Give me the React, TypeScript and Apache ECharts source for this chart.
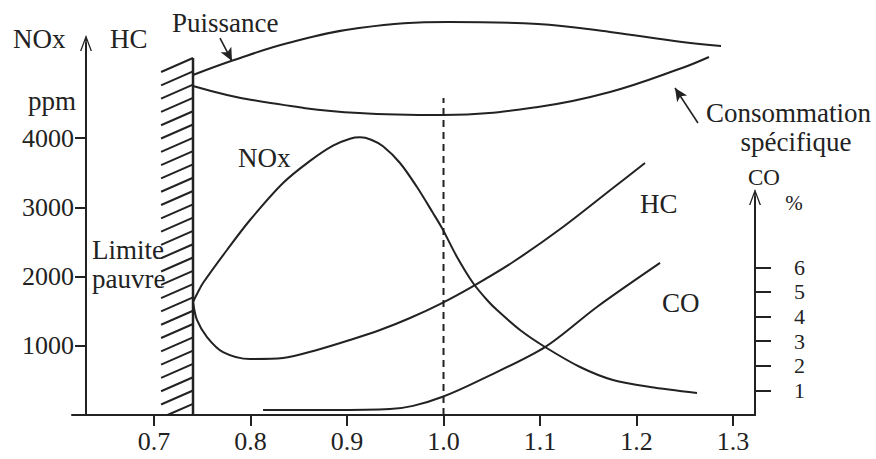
import React, { useEffect, useRef } from 'react';
import * as echarts from 'echarts';

// ---- data (x = richesse, y = ppm or %) ----
const xTicks = [0.7, 0.8, 0.9, 1.0, 1.1, 1.2, 1.3];
const ppmTicks = [1000, 2000, 3000, 4000];
const coTicks = [1, 2, 3, 4, 5, 6];

const noxPpm = [
  [0.7404, 1632], [0.7456, 1776], [0.7508, 1906], [0.7756, 2383], [0.7995, 2816],
  [0.8337, 3350], [0.8617, 3670], [0.8855, 3890], [0.9031, 3990], [0.9135, 4010],
  [0.925, 3975], [0.9373, 3880], [0.9549, 3639], [0.9725, 3292], [0.9891, 2917],
  [0.9984, 2700], [1.014, 2282], [1.0306, 1906], [1.0451, 1661], [1.0554, 1516],
  [1.0793, 1227], [1.1052, 982], [1.1415, 693], [1.1756, 505], [1.214, 404],
  [1.2627, 318],
];
const hcPpm = [
  [0.7404, 1632], [0.7445, 1372], [0.7549, 1126], [0.7715, 909], [0.7995, 809],
  [0.8337, 823], [0.8689, 939], [0.9031, 1083], [0.9342, 1227], [0.9653, 1401],
  [0.9984, 1617], [1.0326, 1877], [1.072, 2209], [1.1238, 2715], [1.1756, 3278],
  [1.2088, 3639],
];
const coPct = [
  [0.813, 0.2], [0.8824, 0.2], [0.9446, 0.24], [0.9684, 0.37], [0.9984, 0.73],
  [1.0378, 1.42], [1.1052, 2.76], [1.159, 4.39], [1.2244, 6.18],
];
// upper curves, in ppm-equivalent height (no scale on the figure)
const puissance = [
  [0.7404, 4910], [0.7829, 5126], [0.8389, 5372], [0.9124, 5588], [1.0057, 5675],
  [1.0979, 5646], [1.1725, 5531], [1.2472, 5386], [1.2876, 5329],
];
const consommation = [
  [0.7404, 4752], [0.8016, 4549], [0.9124, 4361], [0.9995, 4332], [1.0979, 4448],
  [1.1725, 4664], [1.2472, 5011], [1.2751, 5170],
];
const stoichLine = [[1.0, 0], [1.0, 4578]];
const leanLimit = [[0.7073, 0.7404, 0, 5155]];
const puissanceArrow = [[0.7684, 5444], [0.7808, 5112]];
const consoArrow = [[1.2637, 4217], [1.2399, 4722]];

const FONT = '"Liberation Serif", "Times New Roman", serif';
const INK = '#222';
const X_MIN = 0.615;
const X_MAX = 1.3228;
const chevron =
  'path://M0,16 L6,0 L12,16 L10.6,16 L6,3.6 L1.4,16 Z M5.3,1 L6.7,1 L6.7,16 L5.3,16 Z';

function txt(text: string, x: number, y: number, size = 27, align = 'left') {
  return {
    type: 'text',
    x,
    y,
    silent: true,
    style: {
      text,
      fill: INK,
      font: `${size}px ${FONT}`,
      align,
      verticalAlign: 'middle',
    },
  };
}

export default function App() {
  const ref = useRef<HTMLDivElement>(null);

  useEffect(() => {
    if (!ref.current) return;
    const chart = echarts.init(ref.current, undefined, { renderer: 'svg' });
    const lineStyle = { color: INK, width: 2 };
    const hiddenX = (gridIndex: number) => ({
      type: 'value',
      gridIndex,
      min: X_MIN,
      max: X_MAX,
      show: false,
    });

    const option: any = {
      animation: false,
      backgroundColor: '#fff',
      grid: [
        { left: 72, right: 121, top: 43, bottom: 44, outerBoundsMode: 'none' },
        { left: 72, right: 121, top: 197, bottom: 44, outerBoundsMode: 'none' },
        { left: 72, right: 121, top: 0, bottom: 44, outerBoundsMode: 'none' },
      ],
      xAxis: [
        {
          type: 'value',
          gridIndex: 0,
          min: X_MIN,
          max: X_MAX,
          splitLine: { show: false },
          axisLine: { show: true, lineStyle: { color: INK, width: 2 } },
          axisTick: { show: true, length: 11, customValues: xTicks, lineStyle: { color: INK, width: 2 } },
          axisLabel: {
            customValues: xTicks,
            formatter: (v: number) => v.toFixed(1),
            margin: 13,
            color: INK,
            fontFamily: FONT,
            fontSize: 26,
          },
        },
        hiddenX(1),
        hiddenX(2),
      ],
      yAxis: [
        {
          type: 'value',
          gridIndex: 0,
          position: 'left',
          offset: -14,
          min: 0,
          max: 5372,
          splitLine: { show: false },
          axisLine: {
            show: true,
            symbol: ['none', chevron],
            symbolSize: [12, 16],
            lineStyle: { color: INK, width: 2 },
          },
          axisTick: { show: true, length: 11, customValues: ppmTicks, lineStyle: { color: INK, width: 2 } },
          axisLabel: {
            customValues: ppmTicks,
            formatter: (v: number) => String(v),
            margin: 12,
            color: INK,
            fontFamily: FONT,
            fontSize: 26,
          },
        },
        {
          type: 'value',
          gridIndex: 1,
          position: 'right',
          min: 0,
          max: 8.86,
          splitLine: { show: false },
          axisLine: {
            show: true,
            symbol: ['none', chevron],
            symbolSize: [12, 16],
            lineStyle: { color: INK, width: 2 },
          },
          axisTick: { show: true, length: 16, customValues: coTicks, lineStyle: { color: INK, width: 2 } },
          axisLabel: {
            customValues: coTicks,
            formatter: (v: number) => String(v),
            margin: 39,
            color: INK,
            fontFamily: FONT,
            fontSize: 22,
          },
        },
        {
          type: 'value',
          gridIndex: 2,
          min: 0,
          max: 5993,
          show: false,
        },
      ],
      series: [
        {
          name: 'Limite pauvre',
          type: 'custom',
          xAxisIndex: 0,
          yAxisIndex: 0,
          data: leanLimit,
          encode: { x: [0, 1], y: [2, 3] },
          silent: true,
          renderItem: (params: any, api: any) => {
            const bl = api.coord([api.value(0), api.value(2)]);
            const tr = api.coord([api.value(1), api.value(3)]);
            const children: any[] = [
              {
                type: 'line',
                shape: { x1: tr[0], y1: bl[1], x2: tr[0], y2: tr[1] },
                style: { stroke: INK, lineWidth: 2.5 },
              },
            ];
            const step = 13.3;
            const rise = 14;
            for (let yr = tr[1]; yr < bl[1] - 1; yr += step) {
              let xl = bl[0];
              let yl = yr + rise;
              if (yl > bl[1]) {
                const t = (bl[1] - yr) / rise;
                xl = tr[0] - (tr[0] - bl[0]) * t;
                yl = bl[1];
              }
              children.push({
                type: 'line',
                shape: { x1: xl, y1: yl, x2: tr[0], y2: yr },
                style: { stroke: INK, lineWidth: 2 },
              });
            }
            return { type: 'group', children };
          },
        },
        {
          name: 'stoechiometrie',
          type: 'line',
          xAxisIndex: 2,
          yAxisIndex: 2,
          data: stoichLine,
          symbol: 'none',
          silent: true,
          lineStyle: { color: INK, width: 2, type: [7, 5] },
        },
        {
          name: 'NOx',
          type: 'line',
          xAxisIndex: 0,
          yAxisIndex: 0,
          data: noxPpm,
          symbol: 'none',
          smooth: 0.3,
          silent: true,
          lineStyle,
        },
        {
          name: 'HC',
          type: 'line',
          xAxisIndex: 0,
          yAxisIndex: 0,
          data: hcPpm,
          symbol: 'none',
          smooth: 0.3,
          silent: true,
          lineStyle,
        },
        {
          name: 'CO',
          type: 'line',
          xAxisIndex: 1,
          yAxisIndex: 1,
          data: coPct,
          symbol: 'none',
          smooth: 0.3,
          silent: true,
          clip: false,
          lineStyle,
        },
        {
          name: 'Puissance',
          type: 'line',
          xAxisIndex: 2,
          yAxisIndex: 2,
          data: puissance,
          symbol: 'none',
          smooth: 0.4,
          silent: true,
          lineStyle,
          markLine: {
            silent: true,
            symbol: ['none', 'arrow'],
            symbolSize: [9, 13],
            label: { show: false },
            lineStyle: { color: INK, width: 1.6, type: 'solid' },
            data: [
              [{ coord: puissanceArrow[0] }, { coord: puissanceArrow[1] }],
              [{ coord: consoArrow[0] }, { coord: consoArrow[1] }],
            ],
          },
        },
        {
          name: 'Consommation spécifique',
          type: 'line',
          xAxisIndex: 2,
          yAxisIndex: 2,
          data: consommation,
          symbol: 'none',
          smooth: 0.4,
          silent: true,
          lineStyle,
        },
      ],
      graphic: [
        txt('NOx', 13, 39),
        txt('HC', 110, 39),
        txt('Puissance', 172, 23),
        txt('ppm', 28, 101),
        txt('NOx', 238, 158),
        txt('Limite', 92, 250),
        txt('pauvre', 92, 279),
        txt('HC', 640, 204),
        txt('CO', 662, 303),
        txt('Consommation', 706, 113),
        txt('spécifique', 796, 142, 27, 'center'),
        txt('CO', 764, 177, 23, 'center'),
        txt('%', 794, 203, 21, 'center'),
      ],
    };

    chart.setOption(option);
    return () => chart.dispose();
  }, []);

  return (
    <div
      ref={ref}
      style={{ position: 'fixed', left: 0, top: 0, width: 876, height: 459, background: '#fff' }}
    />
  );
}
